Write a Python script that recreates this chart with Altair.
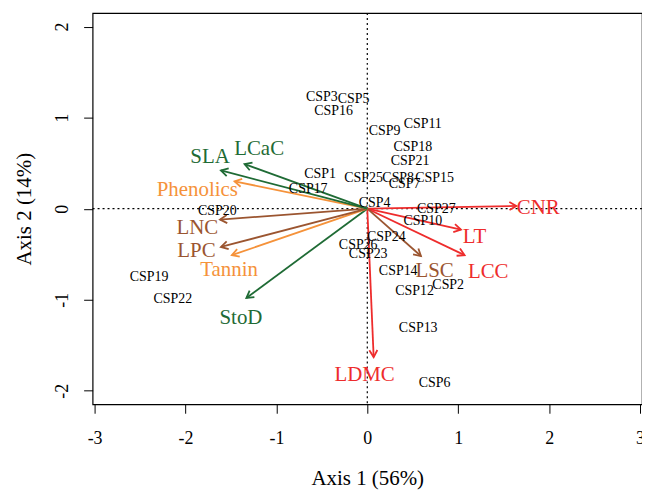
import altair as alt
import pandas as pd

# ---- site scores ----
sites = ["CSP1", "CSP2", "CSP3", "CSP4", "CSP5", "CSP6", "CSP7", "CSP8", "CSP9",
         "CSP10", "CSP11", "CSP12", "CSP13", "CSP14", "CSP15", "CSP16", "CSP17",
         "CSP18", "CSP19", "CSP20", "CSP21", "CSP22", "CSP23", "CSP24", "CSP25",
         "CSP26", "CSP27"]
site_x = [-0.52, 0.89, -0.50, 0.08, -0.15, 0.74, 0.41, 0.34, 0.19,
          0.61, 0.61, 0.52, 0.56, 0.34, 0.74, -0.37, -0.65,
          0.50, -2.40, -1.65, 0.47, -2.14, 0.01, 0.21, -0.04,
          -0.10, 0.76]
site_y = [0.38, -0.84, 1.23, 0.06, 1.20, -1.92, 0.27, 0.34, 0.85,
          -0.13, 0.93, -0.90, -1.31, -0.68, 0.34, 1.07, 0.22,
          0.68, -0.75, -0.03, 0.52, -0.99, -0.50, -0.31, 0.34,
          -0.40, 0.00]

# ---- trait vectors ----
traits = ["CNR", "LT", "LCC", "LSC", "LDMC", "StoD", "Tannin", "LPC", "LNC",
          "Phenolics", "SLA", "LCaC"]
trait_x = [1.64, 1.03, 1.07, 0.59, 0.07, -1.33, -1.49, -1.61, -1.62, -1.46, -1.61, -1.35]
trait_y = [0.03, -0.23, -0.51, -0.52, -1.63, -0.98, -0.51, -0.42, -0.12, 0.30, 0.42, 0.49]
label_x = [1.88, 1.18, 1.33, 0.74, -0.03, -1.39, -1.52, -1.88, -1.87, -1.87, -1.73, -1.19]
label_y = [0.01, -0.31, -0.70, -0.68, -1.83, -1.20, -0.67, -0.46, -0.21, 0.20, 0.57, 0.66]
trait_group = ["red", "red", "red", "brown", "red", "green", "orange", "brown", "brown",
               "orange", "green", "green"]

group_names = ["red", "brown", "green", "orange"]
group_colors = ["#EE2C2C", "#9B5530", "#1F6B35", "#F5923A"]

x_ticks = [-3, -2, -1, 0, 1, 2, 3]
y_ticks = [-2, -1, 0, 1, 2]

sites_df = pd.DataFrame({"site": sites, "x": site_x, "y": site_y})
traits_df = pd.DataFrame({"trait": traits, "x": trait_x, "y": trait_y,
                          "lx": label_x, "ly": label_y, "group": trait_group,
                          "x0": 0.0, "y0": 0.0})

FONT = "Liberation Serif"
xs = alt.Scale(domain=[-3.022, 3.022], nice=False, zero=False)
ys = alt.Scale(domain=[-2.148, 2.148], nice=False, zero=False)
color = alt.Color("group:N", scale=alt.Scale(domain=group_names, range=group_colors), legend=None)

xaxis = alt.Axis(title="Axis 1 (56%)", values=x_ticks, grid=False, domain=False,
                 tickSize=9, tickColor="black", labelFontSize=18, labelFont=FONT,
                 labelColor="black", labelPadding=16, labelExpr="datum.value + ''",
                 titleFont=FONT, titleFontSize=21,
                 titleFontWeight="normal", titleColor="black", titlePadding=21)
yaxis = alt.Axis(title="Axis 2 (14%)", values=y_ticks, grid=False, domain=False,
                 tickSize=9, tickColor="black", labelFontSize=18, labelFont=FONT,
                 labelColor="black", labelAngle=-90, labelAlign="center",
                 labelBaseline="bottom", labelPadding=12, labelExpr="datum.value + ''",
                 titleFont=FONT, titleFontSize=21,
                 titleFontWeight="normal", titleColor="black", titlePadding=19)

base_x = alt.X("x:Q", scale=xs, axis=xaxis)
base_y = alt.Y("y:Q", scale=ys, axis=yaxis)

zero_df = pd.DataFrame({"v": [0.0]})
vline = alt.Chart(zero_df).mark_rule(color="black", strokeDash=[2, 3], strokeWidth=1.2).encode(
    x=alt.X("v:Q", scale=xs, axis=xaxis))
hline = alt.Chart(zero_df).mark_rule(color="black", strokeDash=[2, 3], strokeWidth=1.2).encode(
    y=alt.Y("v:Q", scale=ys, axis=yaxis))

site_text = alt.Chart(sites_df).mark_text(font=FONT, fontSize=14, color="black").encode(
    x=base_x, y=base_y, text="site:N")

shafts = alt.Chart(traits_df).mark_rule(strokeWidth=1.8).encode(
    x=alt.X("x0:Q", scale=xs, axis=xaxis), y=alt.Y("y0:Q", scale=ys, axis=yaxis),
    x2="x:Q", y2="y:Q", color=color)

heads = alt.Chart(traits_df).transform_calculate(
    ang="(atan2(datum.x, datum.y) * 180 / PI + 360) % 360"
).mark_point(shape="M -0.5 0.866 L 0 0 L 0.5 0.866", filled=False, strokeWidth=1.8,
             size=260, opacity=1).encode(
    x=base_x, y=base_y, color=color, angle=alt.Angle("ang:Q", scale=None))

trait_text = alt.Chart(traits_df).mark_text(font=FONT, fontSize=21).encode(
    x=alt.X("lx:Q", scale=xs, axis=xaxis), y=alt.Y("ly:Q", scale=ys, axis=yaxis),
    text="trait:N", color=color)

chart = alt.layer(vline, hline, shafts, heads, site_text, trait_text).properties(
    width=552, height=393,
    background="white",
    autosize=alt.AutoSizeParams(type="none"),
    padding={"left": 85, "top": 4, "right": 0, "bottom": 86},
).configure_view(stroke="black", strokeWidth=1.2)

chart.save("out.html", embed_options={"renderer": "svg", "actions": False})
